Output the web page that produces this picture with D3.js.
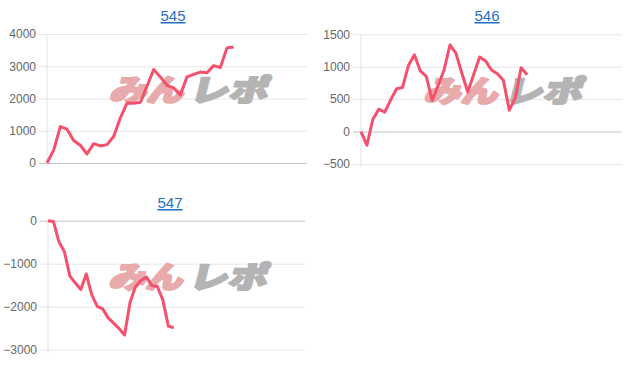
<!DOCTYPE html>
<html>
<head>
<meta charset="utf-8">
<script src="https://cdn.jsdelivr.net/npm/d3@7"></script>
<style>
  html, body { margin: 0; padding: 0; background: #fff; }
  svg { display: block; }
</style>
</head>
<body>
<div id="chart"></div>
<script>
// Chart titles (machine numbers)
const TITLES = ['545', '546', '547'];

// Number of x slots on each chart's category axis
const SLOTS = [40, 45, 48];

// Cumulative difference per chart
const SERIES_545 = [0, 400, 1130, 1050, 700, 550, 280, 600, 530, 570, 820, 1400, 1860, 1850, 1880,
  2380, 2900, 2670, 2410, 2330, 2110, 2670, 2750, 2820, 2800, 3020, 2960, 3570, 3600];
const SERIES_546 = [0, -210, 190, 345, 300, 490, 660, 680, 1020, 1185, 935, 850, 480, 710, 950,
  1335, 1210, 900, 610, 880, 1150, 1090, 950, 890, 790, 330, 520, 985, 875];
const SERIES_547 = [0, -20, -490, -720, -1290, -1450, -1600, -1240, -1720, -1990, -2050, -2260, -2380,
  -2510, -2660, -1900, -1530, -1390, -1310, -1510, -1530, -1840, -2450, -2490];

// y axis domains and tick values
const Y_DOMAINS = [[0, 4000], [-500, 1500], [-3000, 0]];
const Y_TICKS = [
  [0, 1000, 2000, 3000, 4000],
  [-500, 0, 500, 1000, 1500],
  [-3000, -2000, -1000, 0]
];

const SERIES = [SERIES_545, SERIES_546, SERIES_547];

// panel layout in page pixels
const PANELS = [
  { x0: 47, x1: 307, y0: 34, y1: 163, titleX: 173, titleY: 21 },
  { x0: 361, x1: 622, y0: 34.3, y1: 164, titleX: 487, titleY: 21 },
  { x0: 48, x1: 305, y0: 220.7, y1: 349.7, titleX: 170, titleY: 208 }
];

const width = 640;
const height = 372;
const FONT = '"Liberation Sans", Arial, Helvetica, sans-serif';

const svg = d3.select('#chart').append('svg')
  .attr('width', width)
  .attr('height', height);

svg.append('rect').attr('width', width).attr('height', height).attr('fill', '#fff');

PANELS.forEach((p, k) => {
  const data = SERIES[k];
  const g = svg.append('g');

  const x = d3.scaleLinear()
    .domain([0, SLOTS[k] - 1])
    .range([p.x0, p.x1]);

  const y = d3.scaleLinear()
    .domain(Y_DOMAINS[k])
    .range([p.y1, p.y0]);

  // Title (link style)
  g.append('text')
    .attr('x', p.titleX)
    .attr('y', p.titleY)
    .attr('text-anchor', 'middle')
    .attr('font-family', FONT)
    .attr('font-size', 15)
    .attr('fill', '#1f6fc5')
    .attr('text-decoration', 'underline')
    .text(TITLES[k]);

  // y axis via d3, then restyled as grid lines
  const axis = g.append('g')
    .attr('transform', `translate(${p.x0},0)`)
    .call(d3.axisLeft(y)
      .tickValues(Y_TICKS[k])
      .tickSize(-(p.x1 - p.x0))
      .tickPadding(0)
      .tickFormat(d3.format('d')));

  axis.select('.domain').remove();
  axis.selectAll('.tick line')
    .attr('x1', -8)
    .attr('stroke', d => d === 0 ? '#c4c4c4' : '#e6e6e6')
    .attr('stroke-width', 1);
  axis.selectAll('.tick text')
    .attr('x', -11)
    .attr('font-family', FONT)
    .attr('font-size', 12)
    .attr('fill', '#666');

  // vertical axis line
  g.append('line')
    .attr('x1', p.x0).attr('x2', p.x0)
    .attr('y1', p.y0).attr('y2', p.y1 + 3)
    .attr('stroke', '#e3e3e3')
    .attr('stroke-width', 1);

  // watermark behind the line
  const wx = p.x0 + (p.x1 - p.x0) * 0.55;
  const wy = p.y0 + (p.y1 - p.y0) * 0.43;
  const wm = g.append('g')
    .attr('transform', `translate(${wx},${wy}) skewX(-14)`)
    .attr('font-family', '"Noto Sans CJK JP", sans-serif')
    .attr('font-weight', 900)
    .attr('font-size', 30)
    .attr('stroke-width', 2.2)
    .attr('stroke-linejoin', 'round');
  wm.append('text')
    .attr('x', -78).attr('y', 12)
    .attr('textLength', 74)
    .attr('lengthAdjust', 'spacingAndGlyphs')
    .attr('fill', '#e9aaac')
    .attr('stroke', '#e9aaac')
    .text('みん');
  wm.append('text')
    .attr('x', 2).attr('y', 12)
    .attr('textLength', 78)
    .attr('lengthAdjust', 'spacingAndGlyphs')
    .attr('fill', '#b4b4b4')
    .attr('stroke', '#b4b4b4')
    .text('レポ');

  // data line
  const line = d3.line()
    .x((d, i) => x(i))
    .y(d => y(d));

  g.append('path')
    .datum(data)
    .attr('d', line)
    .attr('fill', 'none')
    .attr('stroke', '#f5506c')
    .attr('stroke-width', 3)
    .attr('stroke-linejoin', 'round');
});
</script>
</body>
</html>
